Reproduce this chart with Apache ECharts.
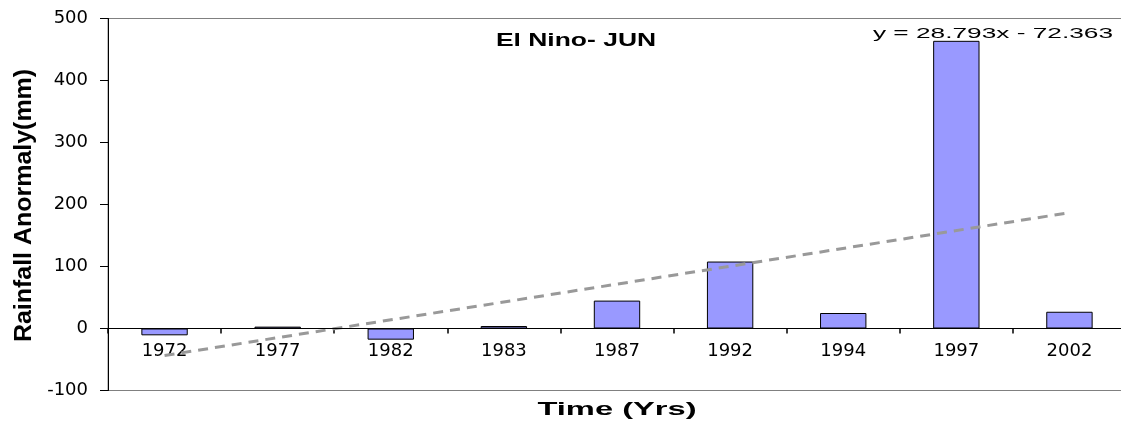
<!DOCTYPE html>
<html>
<head>
<meta charset="utf-8">
<script src="https://cdn.jsdelivr.net/npm/echarts@6/dist/echarts.min.js"></script>
<style>
html,body{margin:0;padding:0;background:#fff;}
#chart{width:1121px;height:428px;}
</style>
</head>
<body>
<div id="chart"></div>
<script>
var categories = ['1972','1977','1982','1983','1987','1992','1994','1997','2002'];
var rainfallAnomaly = [-11, 3, -18, 4, 45, 108, 25, 464, 27];
// linear trend line endpoints as drawn (y = 28.793x - 72.363)
var trendValues = [-43.6, null, null, null, null, null, null, null, 186.8];
var yTicks = { min: -100, max: 500, interval: 100 };
var titleText = 'El Nino- JUN';
var equationText = 'y = 28.793x - 72.363';
var xName = 'Time (Yrs)';
var yName = 'Rainfall Anormaly(mm)';

var chart = echarts.init(document.getElementById('chart'), null, {renderer: 'canvas'});
var sans = 'Liberation Sans, Arial, sans-serif';
var labelGap = 14;
chart.setOption({
  animation: false,
  backgroundColor: '#ffffff',
  grid: {
    left: 108, top: 18.5, width: 1018, height: 372,
    outerBoundsMode: 'none',
    show: true, borderColor: '#808080', borderWidth: 1, backgroundColor: 'transparent'
  },
  xAxis: {
    type: 'category',
    data: categories,
    boundaryGap: true,
    z: 3,
    axisLine: { show: true, onZero: true, lineStyle: { color: '#000000', width: 1 } },
    axisTick: { show: true, length: 5, interval: 0, lineStyle: { color: '#000000', width: 1.5 } },
    axisLabel: { interval: 0, margin: labelGap, color: '#000', fontFamily: 'DejaVu Sans', fontSize: 18 },
    splitLine: { show: false }
  },
  yAxis: {
    type: 'value',
    min: yTicks.min, max: yTicks.max, interval: yTicks.interval,
    z: 3,
    axisLine: { show: true, onZero: false, lineStyle: { color: '#000000', width: 1 } },
    axisTick: { show: true, length: 8, lineStyle: { color: '#000000' } },
    axisLabel: { margin: 20, color: '#000', fontFamily: 'DejaVu Sans', fontSize: 18 },
    splitLine: { show: false }
  },
  series: [
    {
      type: 'bar',
      data: rainfallAnomaly,
      barWidth: '41%',
      itemStyle: { color: '#9999FF', borderColor: '#000', borderWidth: 1 },
      markLine: {
        silent: true,
        symbol: ['none', 'none'],
        label: { show: false },
        lineStyle: { color: '#000000', width: 1, type: 'solid' },
        data: [{ yAxis: 0 }]
      }
    },
    {
      type: 'line',
      data: trendValues,
      connectNulls: true,
      showSymbol: false,
      symbol: 'none',
      lineStyle: { color: '#999999', width: 3, type: [10, 7] }
    }
  ],
  graphic: [
    { type: 'text', x: 576, y: 41, scaleX: 1.47, z: 10,
      style: { text: titleText, fontFamily: sans, fontWeight: 'bold', fontSize: 18, fill: '#000', align: 'center', verticalAlign: 'middle' } },
    { type: 'text', x: 1113, y: 34, scaleX: 1.75, z: 10,
      style: { text: equationText, fontFamily: sans, fontSize: 15, fill: '#000', align: 'right', verticalAlign: 'middle' } },
    { type: 'text', x: 617, y: 410, scaleX: 1.72, z: 10,
      style: { text: xName, fontFamily: sans, fontWeight: 'bold', fontSize: 19, fill: '#000', align: 'center', verticalAlign: 'middle' } },
    { type: 'text', x: 24, y: 205.5, rotation: Math.PI / 2, scaleX: 1.04, z: 10,
      style: { text: yName, fontFamily: sans, fontWeight: 'bold', fontSize: 24, fill: '#000', align: 'center', verticalAlign: 'middle' } }
  ]
});
// category labels sit under the zero line (distance taken from the library's scale)
var zeroY = chart.convertToPixel({ yAxisIndex: 0 }, 0);
var bottomY = chart.convertToPixel({ yAxisIndex: 0 }, yTicks.min);
chart.setOption({ xAxis: { axisLabel: { margin: labelGap - (bottomY - zeroY) } } });
</script>
</body>
</html>
